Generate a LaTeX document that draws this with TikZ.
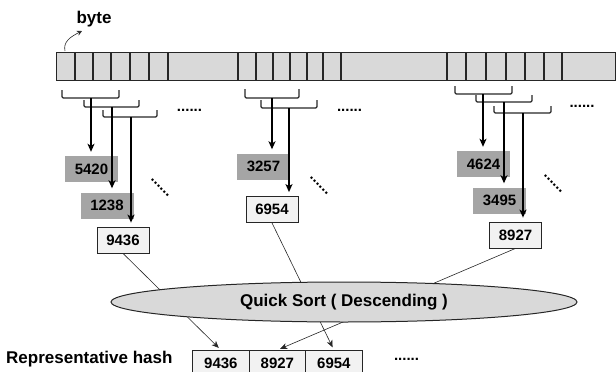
\documentclass[tikz,border=0pt]{standalone}
\usepackage{fontspec}
\setmainfont{Liberation Sans}
\usetikzlibrary{arrows.meta,shapes.geometric}
\definecolor{stripgray}{HTML}{D9D9D9}
\definecolor{boxgray}{HTML}{A5A5A5}
\definecolor{lightfill}{HTML}{F2F2F2}
\definecolor{edgecol}{HTML}{262626}
\begin{document}
\begin{tikzpicture}[x=1pt,y=-1pt,
  numfont/.style={font=\fontsize{15}{15}\selectfont\bfseries},
  graybox/.style={numfont, fill=boxgray, minimum width=53pt, minimum height=26pt, inner sep=0pt},
  whitebox/.style={numfont, fill=lightfill, draw=edgecol, line width=0.8pt, minimum width=52pt, minimum height=26pt, inner sep=0pt},
  cellbox/.style={numfont, fill=lightfill, draw=edgecol, line width=0.8pt, minimum height=26pt, inner sep=0pt},
  bracebar/.style={draw=edgecol, line width=1.3pt, rounded corners=1.2pt},
  feed/.style={draw=black, line width=1.3pt, -{Stealth[length=8pt,width=7pt,inset=2pt]}, shorten >=4pt},
  link/.style={draw=edgecol, line width=0.6pt, -{Stealth[length=7pt,width=6pt,inset=2pt]}},
  dotrow/.style={font=\fontsize{15}{15}\selectfont\bfseries, inner sep=0pt},
]
\useasboundingbox (0,0) rectangle (616,372);

% byte strip
\node[draw=edgecol, fill=stripgray, line width=1.2pt, minimum width=559pt, minimum height=28pt, inner sep=0pt, anchor=north west] (strip) at (55.5,52) {};
\foreach \x in {75,93,111,130,149,168,238,256,273,290,307,323,341,447,466,486,506,525,544,562}
  \draw[draw=edgecol, line width=1.2pt] (\x,52) -- (\x,80);

% byte label and curved arrow
\node[font=\fontsize{17}{17}\selectfont\bfseries, inner sep=0pt] (byte) at (94,19) {byte};
\coordinate (bytefrom) at (65,51);
\coordinate (byteto) at (82,31);
\draw[draw=edgecol, line width=0.6pt, -{Stealth[length=5pt,width=5pt,inset=1.5pt]}] (bytefrom) .. controls (63,42) and (70,37) .. (byteto);

% brackets
\newcommand{\bracketshape}[4]{% x1, x2, top, bottom
  \draw[bracebar] (#1,#3) -- (#1,#4) -- (#2,#4) -- (#2,#3);
}
\bracketshape{62}{119}{90}{98}
\bracketshape{84}{139}{100}{107}
\bracketshape{103}{157}{110}{117}
\bracketshape{245}{299}{89}{98}
\bracketshape{261}{317}{100}{108}
\bracketshape{455}{512}{86}{94}
\bracketshape{476}{532}{95}{102}
\bracketshape{494}{551}{106}{113}
\coordinate (b1) at (91,98);
\coordinate (b2) at (112,107);
\coordinate (b3) at (131,117);
\coordinate (b4) at (272,98);
\coordinate (b5) at (289,108);
\coordinate (b6) at (483,94);
\coordinate (b7) at (504,102);
\coordinate (b8) at (523,113);

% hash boxes
\node[graybox] (h5420) at (91.5,169) {5420};
\node[graybox] (h1238) at (107,205.5) {1238};
\node[whitebox] (h9436) at (123,240) {9436};
\node[graybox] (h3257) at (263.5,166.5) {3257};
\node[whitebox] (h6954) at (272,209.5) {6954};
\node[graybox] (h4624) at (483.5,164) {4624};
\node[graybox] (h3495) at (499.5,200.5) {3495};
\node[whitebox] (h8927) at (515.5,235) {8927};

% arrows from brackets
\draw[feed] (b1) -- (b1 |- h5420.north);
\draw[feed] (b2) -- (b2 |- h1238.north);
\draw[feed] (b3) -- (b3 |- h9436.north);
\draw[feed] (b4) -- (b4 |- h3257.north);
\draw[feed] (b5) -- (b5 |- h6954.north);
\draw[feed] (b6) -- (b6 |- h4624.north);
\draw[feed] (b7) -- (b7 |- h3495.north);
\draw[feed] (b8) -- (b8 |- h8927.north);

% dots
\node[dotrow] (d1) at (189.5,110) {......};
\node[dotrow] (d2) at (349.5,110) {......};
\node[dotrow] (d3) at (582,106) {......};
\node[dotrow, rotate=-45] (e1) at (160,188) {......};
\node[dotrow, rotate=-45] (e2) at (319,186) {......};
\node[dotrow, rotate=-45] (e3) at (553,184) {......};

% representative hash
\node[font=\fontsize{17}{17}\selectfont\bfseries, inner sep=0pt, anchor=west] (rep) at (6,359) {Representative hash};
\node[cellbox, minimum width=57pt, anchor=north west] (c1) at (192,350) {9436};
\node[cellbox, minimum width=56pt, anchor=north west] (c2) at (249,350) {8927};
\node[cellbox, minimum width=57pt, anchor=north west] (c3) at (305,350) {6954};
\node[dotrow] (d4) at (406.5,359) {......};

% links into sort result
\draw[link, shorten >=3pt] (h9436.south) -- (c1.north);
\draw[link, shorten >=3pt] (h8927.south) -- (c2.north);
\draw[link, shorten >=3pt] (h6954.south) -- (c3.north);

% quick sort ellipse (on top of links)
\node[ellipse, draw=edgecol, fill=stripgray, line width=1pt, minimum width=466pt, minimum height=40pt, inner sep=0pt, font=\fontsize{17}{17}\selectfont\bfseries] (qs) at (344,302) {Quick Sort ( Descending )};
\end{tikzpicture}
\end{document}
